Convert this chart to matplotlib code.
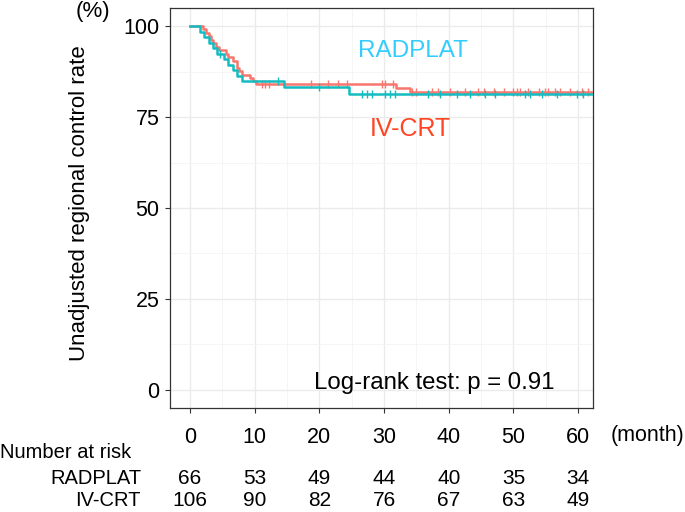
import numpy as np
import matplotlib
matplotlib.use("Agg")
import matplotlib.pyplot as plt
import matplotlib.transforms as mtransforms

plt.rcParams['font.family'] = ['Liberation Sans', 'DejaVu Sans']

# ---- data ----
rad_times = [0, 1.6, 2.2, 2.9, 3.5, 4.2, 5.2, 5.8, 6.6, 7.2, 8.0, 14.6, 24.6]
rad_surv = [100, 98.5, 97.0, 95.5, 93.9, 92.4, 90.9, 89.4, 87.9, 86.4, 84.8, 83.2, 81.4]
rad_cens = [4.6, 13.6, 20.0, 26.6, 27.3, 28.1, 30.1, 30.9, 31.7, 36.8, 38.6, 41.3,
            43.3, 45.6, 47.1, 51.8, 52.6, 54.4, 56.7, 59.8, 60.7]

ivc_times = [0, 2.0, 2.4, 2.9, 3.2, 3.6, 4.0, 4.5, 5.5, 5.8, 6.6, 7.3, 7.5, 8.0,
             9.2, 9.8, 10.2, 31.8, 34.0]
ivc_surv = [100, 99.1, 98.1, 97.2, 96.2, 95.3, 94.3, 93.4, 92.4, 91.5, 90.5, 88.6,
            87.6, 86.7, 85.7, 84.8, 84.0, 83.0, 82.0]
ivc_cens = [11.1, 11.6, 12.2, 18.7, 21.3, 22.9, 24.3, 29.6, 30.1, 31.4, 34.3, 35.0,
            37.4, 38.4, 40.2, 42.5, 44.5, 45.5, 47.0, 48.5, 50.0, 50.5, 51.0, 52.2,
            54.0, 54.9, 55.4, 56.4, 57.2, 58.7, 60.6, 61.5]

risk_times = [0, 10, 20, 30, 40, 50, 60]
risk_rad = [66, 53, 49, 44, 40, 35, 34]
risk_ivc = [106, 90, 82, 76, 67, 63, 49]

y_ticks = [0, 25, 50, 75, 100]
x_end = 63

col_rad = "#13BCC0"
col_ivc = "#F8766D"

fig = plt.figure(figsize=(6.85, 5.12), dpi=100)
ax = fig.add_axes([170 / 685, 1 - 408 / 512, (593 - 170) / 685, 400 / 512])


def km(ax, times, surv, cens, color, z):
    t = list(times) + [x_end]
    s = list(surv) + [surv[-1]]
    ax.step(t, s, where='post', color=color, lw=1.8, zorder=z)
    idx = np.searchsorted(np.array(times), np.array(cens), side='right') - 1
    cs = np.array(surv)[idx]
    ax.plot(cens, cs, ls='none', marker='|', ms=6, mew=1.0, color=color, zorder=z)


km(ax, ivc_times, ivc_surv, ivc_cens, col_ivc, 3)
km(ax, rad_times, rad_surv, rad_cens, col_rad, 4)

ax.set_xlim(-3.1, 62.3)
ax.set_ylim(-5, 105)
ax.set_xticks(risk_times)
ax.set_xticks([5, 15, 25, 35, 45, 55], minor=True)
ax.set_yticks(y_ticks)
ax.set_yticks([12.5, 37.5, 62.5, 87.5], minor=True)
ax.grid(which='major', color='#EBEBEB', lw=1.0)
ax.grid(which='minor', color='#F4F4F4', lw=0.6)
ax.set_axisbelow(True)
for sp in ax.spines.values():
    sp.set_color('#333333')
    sp.set_linewidth(0.9)
ax.tick_params(which='major', length=3.5, color='#333333', labelsize=15.5,
               labelcolor='black')
ax.tick_params(axis='x', pad=10)
ax.tick_params(axis='y', pad=4)
ax.tick_params(which='minor', length=0)

ax.text(34.5, 93.1, "RADPLAT", color="#33CCFF", fontsize=17.5, ha='center', va='center')
ax.text(34.0, 71.6, "IV-CRT", color="#FF4422", fontsize=18, ha='center', va='center')
ax.text(37.7, 1.9, "Log-rank test: p = 0.91", color='black', fontsize=17.3,
        ha='center', va='center')

row1_y = 479
row2_y = 500
trans = mtransforms.blended_transform_factory(ax.transData, ax.transAxes)
for xt, a, b in zip(risk_times, risk_rad, risk_ivc):
    ax.text(xt, (408 - row1_y) / 400, str(a), transform=trans, ha='center', va='center',
            fontsize=15, clip_on=False)
    ax.text(xt, (408 - row2_y) / 400, str(b), transform=trans, ha='center', va='center',
            fontsize=15, clip_on=False)

fig.text(647 / 685, 1 - 436 / 512, "(month)", ha='center', va='center', fontsize=15.5)
fig.text(0 / 685, 1 - 453 / 512, "Number at risk", ha='left', va='center', fontsize=14.5)
fig.text(141 / 685, 1 - row1_y / 512, "RADPLAT", ha='right', va='center', fontsize=14.5)
fig.text(141 / 685, 1 - row2_y / 512, "IV-CRT", ha='right', va='center', fontsize=14.5)
fig.text(93 / 685, 1 - 12 / 512, "(%)", ha='center', va='center', fontsize=16)
fig.text(80 / 685, 1 - 203 / 512, "Unadjusted regional control rate", ha='center',
         va='center', rotation=90, fontsize=16)

fig.savefig("out.png", dpi=100)
